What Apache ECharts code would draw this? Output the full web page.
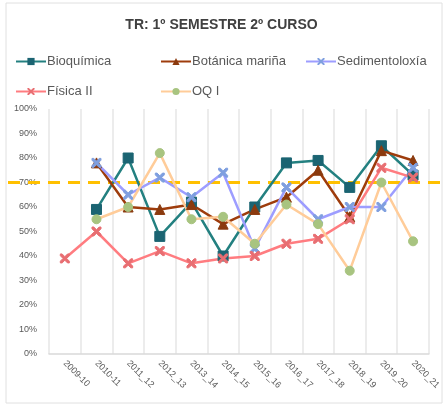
<!DOCTYPE html>
<html>
<head>
    <meta charset="utf-8" />
    <title>TR: 1º SEMESTRE 2º CURSO</title>
    <script src="https://cdn.jsdelivr.net/npm/echarts@6/dist/echarts.min.js"></script>
    <style>
        html, body { margin: 0; padding: 0; background: #fff; }
        #main { width: 443px; height: 405px; }
    </style>
</head>
<body>
    <div id="main"></div>
    <script type="text/javascript">
        // academic years
        var years = ['2009-10', '2010-11', '2011_12', '2012_13', '2013_14', '2014_15',
                     '2015_16', '2016_17', '2017_18', '2018_19', '2019_20', '2020_21'];

        // rates per subject (%), null = no data
        var bioquimica     = [null, 59, 80, 48, 62, 40, 60, 78, 79, 68, 85, 73];
        var botanica       = [null, 78, 60, 59, 61, 53, 59, 64, 75, 56, 83, 79];
        var sedimentoloxia = [null, 78, 65, 72, 64, 74, 43, 68, 55, 60, 60, 76];
        var fisica         = [39, 50, 37, 42, 37, 39, 40, 45, 47, 55, 76, 72];
        var oq             = [null, 55, 60, 82, 55, 56, 45, 61, 53, 34, 70, 46];

        // reference threshold
        var threshold = 70;

        var chart = echarts.init(document.getElementById('main'));

        var labelFont = 'Liberation Sans';
        var cross = 'path://M0,0L2,0L5,3L8,0L10,0L10,2L7,5L10,8L10,10L8,10L5,7L2,10L0,10L0,8L3,5L0,2Z';

        function lineSeries(name, data, color, symbol, markColor, size) {
            return {
                name: name,
                type: 'line',
                data: data,
                symbol: symbol,
                symbolSize: size,
                connectNulls: false,
                lineStyle: { color: color, width: 2.5 },
                itemStyle: { color: markColor, borderColor: markColor },
                emphasis: { disabled: true }
            };
        }

        var legendBase = {
            orient: 'vertical',
            top: 50,
            itemWidth: 30, itemHeight: 9, itemGap: 17,
            textStyle: { fontFamily: labelFont, fontSize: 13, color: '#595959', padding: [0, 0, 0, -4] }
        };

        var option = {
            animation: false,
            backgroundColor: '#fff',
            title: {
                text: 'TR: 1º SEMESTRE 2º CURSO',
                left: 'center',
                top: 13,
                textStyle: { fontFamily: labelFont, fontSize: 14, fontWeight: 'bold', color: '#404040' }
            },
            legend: [
                Object.assign({}, legendBase, { data: ['Bioquímica', 'Física II'], left: 10 }),
                Object.assign({}, legendBase, { data: ['Botánica mariña', 'OQ I'], left: 155 }),
                Object.assign({}, legendBase, { data: ['Sedimentoloxía'], left: 300 })
            ],
            grid: [
                { left: 49, right: 11, top: 109, bottom: 51 },
                { left: 8, right: 0, top: 109, bottom: 51 }
            ],
            xAxis: [{
                type: 'category',
                data: years,
                gridIndex: 0,
                boundaryGap: true,
                axisLine: { lineStyle: { color: '#d9d9d9', width: 1.5 } },
                axisTick: { show: false },
                splitLine: { show: true, lineStyle: { color: '#e6e6e6', width: 1.5 } },
                axisLabel: {
                    rotate: -45,
                    interval: 0,
                    margin: 8,
                    fontFamily: labelFont,
                    fontSize: 9,
                    color: '#595959'
                }
            }, {
                type: 'value',
                gridIndex: 1,
                min: 0, max: 1,
                show: false
            }],
            yAxis: [{
                type: 'value',
                gridIndex: 0,
                min: 0, max: 100, interval: 10,
                axisLine: { show: false },
                axisTick: { show: false },
                splitLine: { show: false },
                axisLabel: {
                    formatter: '{value}%',
                    margin: 12,
                    fontFamily: labelFont,
                    fontSize: 9,
                    color: '#595959'
                }
            }, {
                type: 'value',
                gridIndex: 1,
                min: 0, max: 100,
                show: false
            }],
            series: [
                lineSeries('Bioquímica', bioquimica, '#238080', 'rect', '#1b6472', 10),
                lineSeries('Botánica mariña', botanica, '#9e3c0c', 'triangle', '#8b3a0e', 10),
                lineSeries('Sedimentoloxía', sedimentoloxia, '#9d9dff', cross, '#7f9fdf', 9),
                lineSeries('Física II', fisica, '#ff7c80', cross, '#e86e72', 9),
                lineSeries('OQ I', oq, '#ffcc99', 'circle', '#a8c480', 9),
                {
                    name: 'threshold',
                    type: 'line',
                    xAxisIndex: 1,
                    yAxisIndex: 1,
                    data: [[0, threshold], [1, threshold]],
                    symbol: 'none',
                    lineStyle: { color: '#ffc000', width: 3, type: [12, 8] },
                    emphasis: { disabled: true },
                    z: 1
                }
            ],
            graphic: [{
                type: 'rect',
                shape: { x: 6, y: 3, width: 436, height: 400 },
                style: { fill: 'none', stroke: '#e0e0e0', lineWidth: 1 },
                silent: true
            }]
        };

        chart.setOption(option);
    </script>
</body>
</html>
